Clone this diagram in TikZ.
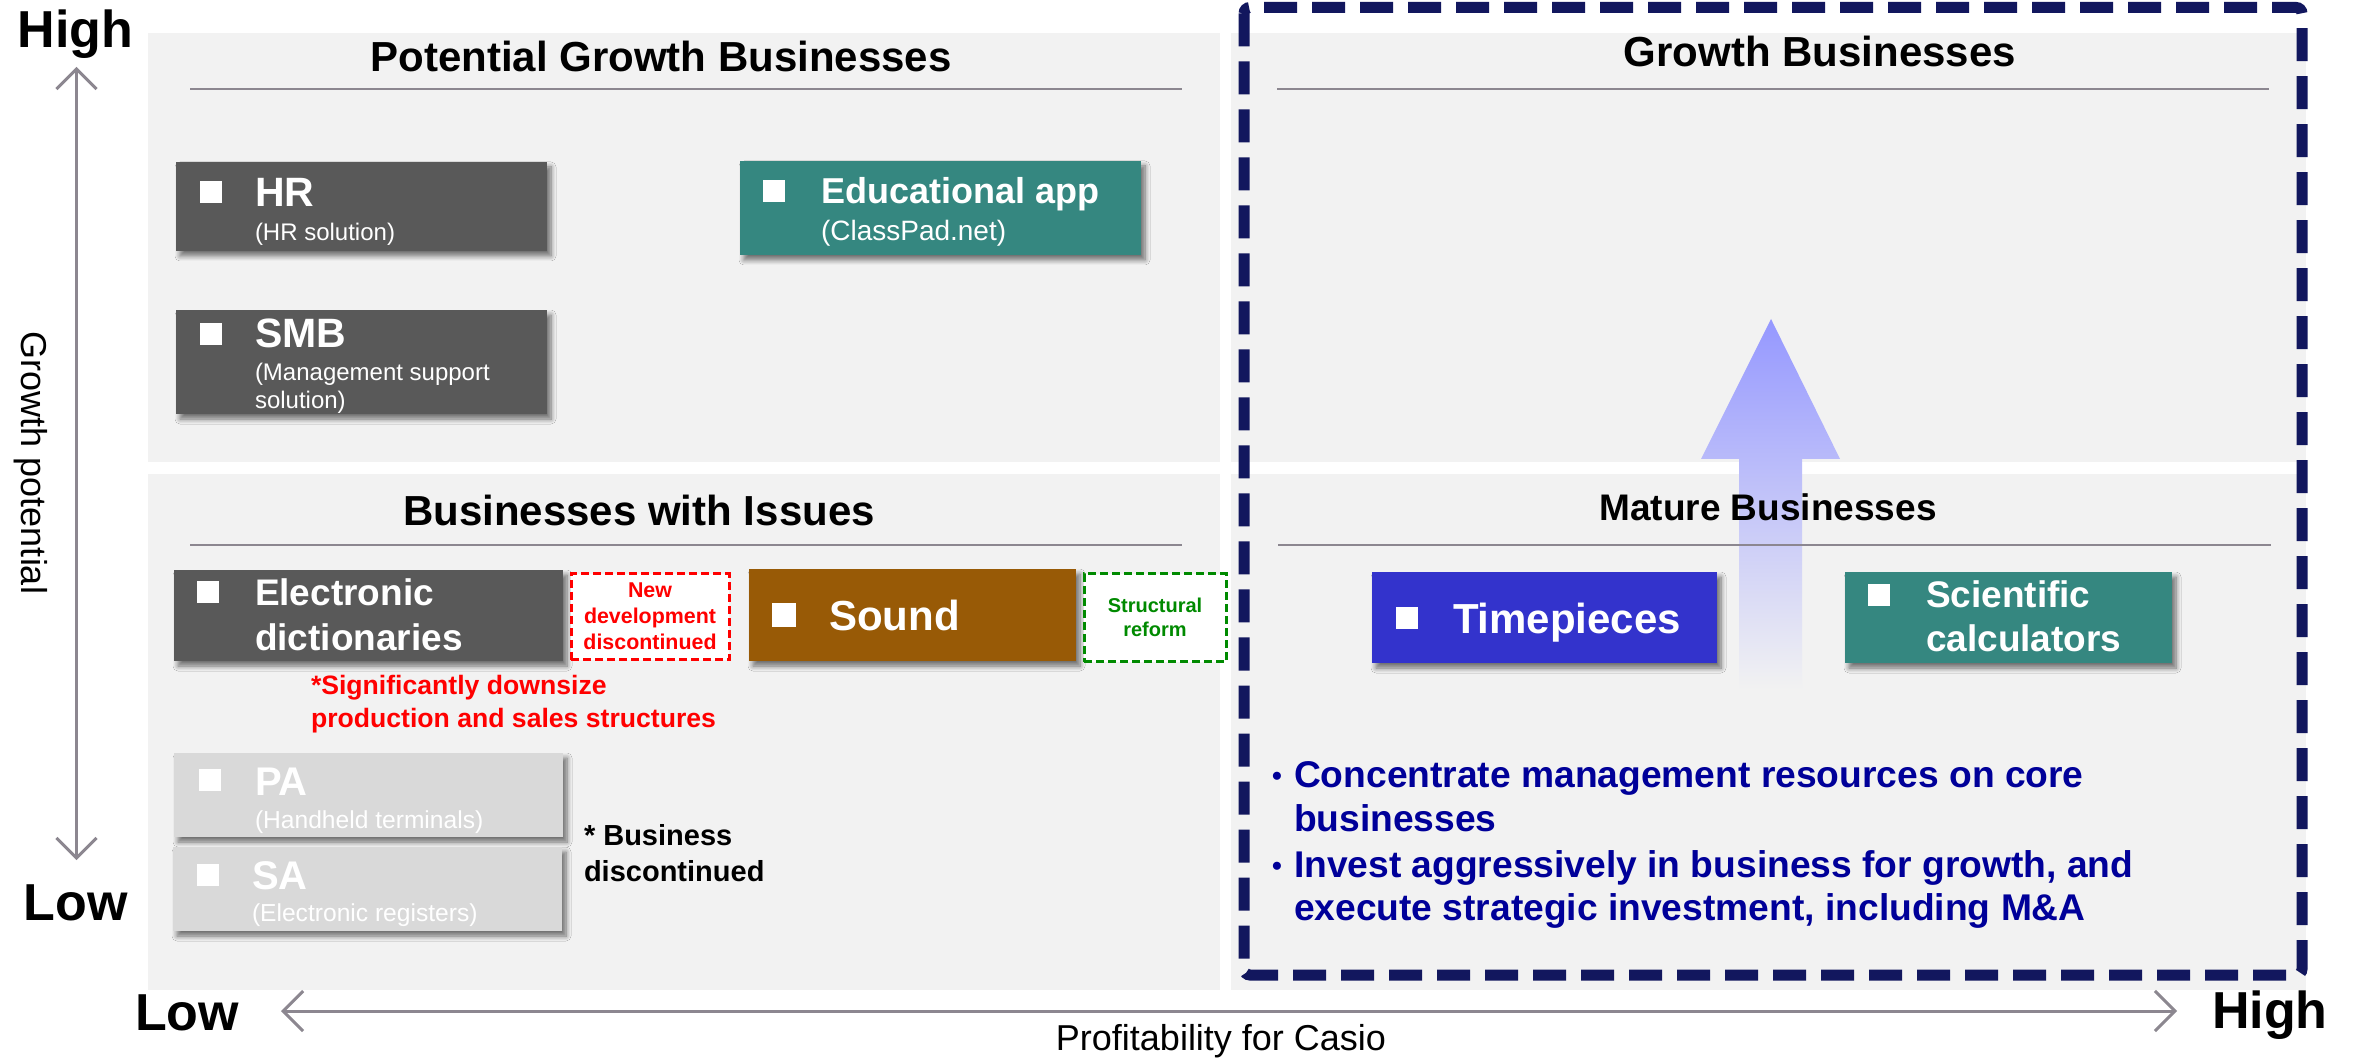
\documentclass[tikz,border=0pt]{standalone}
\usepackage{fontspec}
\setmainfont{Liberation Sans}
\usetikzlibrary{arrows.meta,shadows.blur,fit}

\definecolor{panelgray}{HTML}{F2F2F2}
\definecolor{darkbox}{HTML}{595959}
\definecolor{tealbox}{HTML}{358780}
\definecolor{brownbox}{HTML}{985A06}
\definecolor{bluebox}{HTML}{3333CC}
\definecolor{lightbox}{HTML}{D9D9D9}
\definecolor{navyframe}{HTML}{12175E}
\definecolor{axisgray}{HTML}{8C8790}
\definecolor{notered}{HTML}{FF0000}
\definecolor{notegreen}{HTML}{008A00}
\definecolor{pointblue}{HTML}{000099}
\definecolor{arrowtop}{HTML}{9598FF}
\definecolor{arrowmid}{HTML}{C2C4F8}

\newcommand{\fsz}[1]{\fontsize{#1pt}{1.2\dimexpr#1pt\relax}\selectfont}

\begin{document}
\begin{tikzpicture}[x=0.5pt,y=-0.5pt,
  panel/.style={fill=panelgray,inner sep=0,outer sep=0},
  bizbox/.style={inner sep=0,outer sep=0,
    blur shadow={shadow xshift=2pt,shadow yshift=-2.5pt,shadow blur radius=2.5pt,
      shadow blur steps=8,shadow opacity=55}},
  notebox/.style={fill=white,inner sep=0,outer sep=0,line width=1.5pt,dash pattern=on 4pt off 2pt},
  sq/.style={fill=white,inner sep=0,outer sep=0,minimum size=11pt},
  txt/.style={inner sep=0,outer sep=0,anchor=base west},
  ctxt/.style={inner sep=0,outer sep=0,anchor=base},
  heading/.style={ctxt,font=\fsz{21}\bfseries},
  rulestyle/.style={draw=axisgray,line width=1.3pt},
  axis/.style={draw=axisgray,line width=1.5pt,
    {Straight Barb[length=10pt,width=20pt]}-{Straight Barb[length=10pt,width=20pt]}},
  axisend/.style={txt,font=\fsz{26}\bfseries},
  point/.style={txt,text=pointblue,font=\fsz{18.6}\bfseries},
]
\useasboundingbox (0,0) rectangle (2356,1063);
\fill[white] (0,0) rectangle (2356,1063);

% quadrant panels
\node[panel,fit={(148,33)(1220,462)}] (pgpanel) {};
\node[panel,fit={(1231,33)(2306,462)}] (grpanel) {};
\node[panel,fit={(148,474)(1220,990)}] (ispanel) {};
\node[panel,fit={(1231,474)(2306,990)}] (mapanel) {};

% upward shaded arrow from mature to growth
\shade[top color=arrowtop,middle color=arrowmid,bottom color=panelgray]
  (1771,319) -- (1840,459) -- (1802,459) -- (1802,690) -- (1739,690)
  -- (1739,459) -- (1701,459) -- cycle;

% headings and rules
\node[heading] (pgtitle) at (661,72) {Potential Growth Businesses};
\node[heading] (grtitle) at (1820,67) {Growth Businesses};
\node[heading] (istitle) at (639,526) {Businesses with Issues};
\node[heading,font=\fsz{18.5}\bfseries] (matitle) at (1768,521) {Mature Businesses};
\draw[rulestyle] (190,89) -- (1182,89);
\draw[rulestyle] (1277,89) -- (2269,89);
\draw[rulestyle] (190,545) -- (1182,545);
\draw[rulestyle] (1278,545) -- (2271,545);

% potential growth businesses
\node[bizbox,fill=darkbox,fit={(176,162)(547,251)}] (hr) {};
\node[sq] (hrsq) at (211,192) {};
\node[txt,text=white,font=\fsz{20.5}\bfseries] (hrname) at (255,207) {HR};
\node[txt,text=white,font=\fsz{12}] (hrsub) at (255,241) {(HR solution)};

\node[bizbox,fill=darkbox,fit={(176,310)(547,414)}] (smb) {};
\node[sq] (smbsq) at (211,334) {};
\node[txt,text=white,font=\fsz{20.5}\bfseries] (smbname) at (255,348) {SMB};
\node[txt,text=white,font=\fsz{12}] (smbsub1) at (255,381) {(Management support};
\node[txt,text=white,font=\fsz{12}] (smbsub2) at (255,409) {solution)};

\node[bizbox,fill=tealbox,fit={(740,161)(1141,255)}] (edu) {};
\node[sq] (edusq) at (774,191) {};
\node[txt,text=white,font=\fsz{18}\bfseries] (eduname) at (821,204) {Educational app};
\node[txt,text=white,font=\fsz{14}] (edusub) at (821,241) {(ClassPad.net)};

% businesses with issues
\node[bizbox,fill=darkbox,fit={(174,570)(563,661)}] (ed) {};
\node[sq] (edsq) at (208,592) {};
\node[txt,text=white,font=\fsz{18.5}\bfseries] (edname1) at (255,606) {Electronic};
\node[txt,text=white,font=\fsz{18.5}\bfseries] (edname2) at (255,651) {dictionaries};

\node[notebox,draw=notered,fit={(571,574)(729,660)}] (newdev) {};
\node[ctxt,text=notered,font=\fsz{10.7}\bfseries] (newdev1) at (650,598) {New};
\node[ctxt,text=notered,font=\fsz{10.7}\bfseries] (newdev2) at (650,624) {development};
\node[ctxt,text=notered,font=\fsz{10.7}\bfseries] (newdev3) at (650,650) {discontinued};

\node[txt,text=notered,font=\fsz{13.3}\bfseries] (downsize1) at (311,695) {*Significantly downsize};
\node[txt,text=notered,font=\fsz{13.3}\bfseries] (downsize2) at (311,727) {production and sales structures};

\node[bizbox,fill=brownbox,fit={(749,569)(1076,661)}] (sound) {};
\node[sq,minimum size=12pt] (soundsq) at (784,615) {};
\node[txt,text=white,font=\fsz{21}\bfseries] (soundname) at (829,631) {Sound};

\node[notebox,draw=notegreen,fit={(1084,574)(1226,662)}] (reform) {};
\node[ctxt,text=notegreen,font=\fsz{10}\bfseries] (reform1) at (1155,613) {Structural};
\node[ctxt,text=notegreen,font=\fsz{10}\bfseries] (reform2) at (1155,637) {reform};

\node[bizbox,fill=lightbox,fit={(174,753)(563,837)}] (pa) {};
\node[sq] (pasq) at (210,780) {};
\node[txt,text=white,font=\fsz{20}\bfseries] (paname) at (255,795) {PA};
\node[txt,text=white,font=\fsz{12.3}] (pasub) at (255,828) {(Handheld terminals)};

\node[bizbox,fill=lightbox,fit={(173,847)(562,931)}] (sa) {};
\node[sq] (sasq) at (208,875) {};
\node[txt,text=white,font=\fsz{20}\bfseries] (saname) at (252,889) {SA};
\node[txt,text=white,font=\fsz{12.3}] (sasub) at (252,921) {(Electronic registers)};

\node[txt,font=\fsz{14.5}\bfseries] (disc1) at (584,845) {* Business};
\node[txt,font=\fsz{14.5}\bfseries] (disc2) at (584,881) {discontinued};

% mature businesses
\node[bizbox,fill=bluebox,fit={(1372,572)(1717,663)}] (time) {};
\node[sq] (timesq) at (1407,618) {};
\node[txt,text=white,font=\fsz{21}\bfseries] (timename) at (1453,633) {Timepieces};

\node[bizbox,fill=tealbox,fit={(1845,572)(2172,663)}] (calc) {};
\node[sq] (calcsq) at (1879,595) {};
\node[txt,text=white,font=\fsz{18.5}\bfseries] (calcname1) at (1926,608) {Scientific};
\node[txt,text=white,font=\fsz{18.5}\bfseries] (calcname2) at (1926,652) {calculators};

% policy points
\node[txt,text=pointblue,font=\fsz{14}\bfseries] (pt1dot) at (1272,785) {\textbullet};
\node[point] (pt1a) at (1294,787) {Concentrate management resources on core};
\node[point] (pt1b) at (1294,831) {businesses};
\node[txt,text=pointblue,font=\fsz{14}\bfseries] (pt2dot) at (1272,875) {\textbullet};
\node[point] (pt2a) at (1294,877) {Invest aggressively in business for growth, and};
\node[point] (pt2b) at (1294,920) {execute strategic investment, including M\&A};

% focus frame
\draw[navyframe,line width=5.5pt,dash pattern=on 16.5pt off 7.5pt,rounded corners=3pt]
  (1244,7.5) rectangle (2302,975);

% axes
\coordinate (vtop) at (76.5,67);
\coordinate (vbot) at (76.5,860);
\coordinate (hleft) at (281,1011);
\coordinate (hright) at (2177,1011);
\draw[axis] (vtop) -- (vbot);
\draw[axis] (hleft) -- (hright);
\node[axisend] (vhigh) at (18,48) {High};
\node[axisend] (vlow) at (24,920) {Low};
\node[axisend] (hlow) at (135,1030) {Low};
\node[axisend] (hhigh) at (2212,1028) {High};
\node[inner sep=0,font=\fsz{18},rotate=-90] (vtitle) at (31,463) {Growth potential};
\node[ctxt,font=\fsz{18}] (htitle) at (1221,1050) {Profitability for Casio};
\end{tikzpicture}
\end{document}
